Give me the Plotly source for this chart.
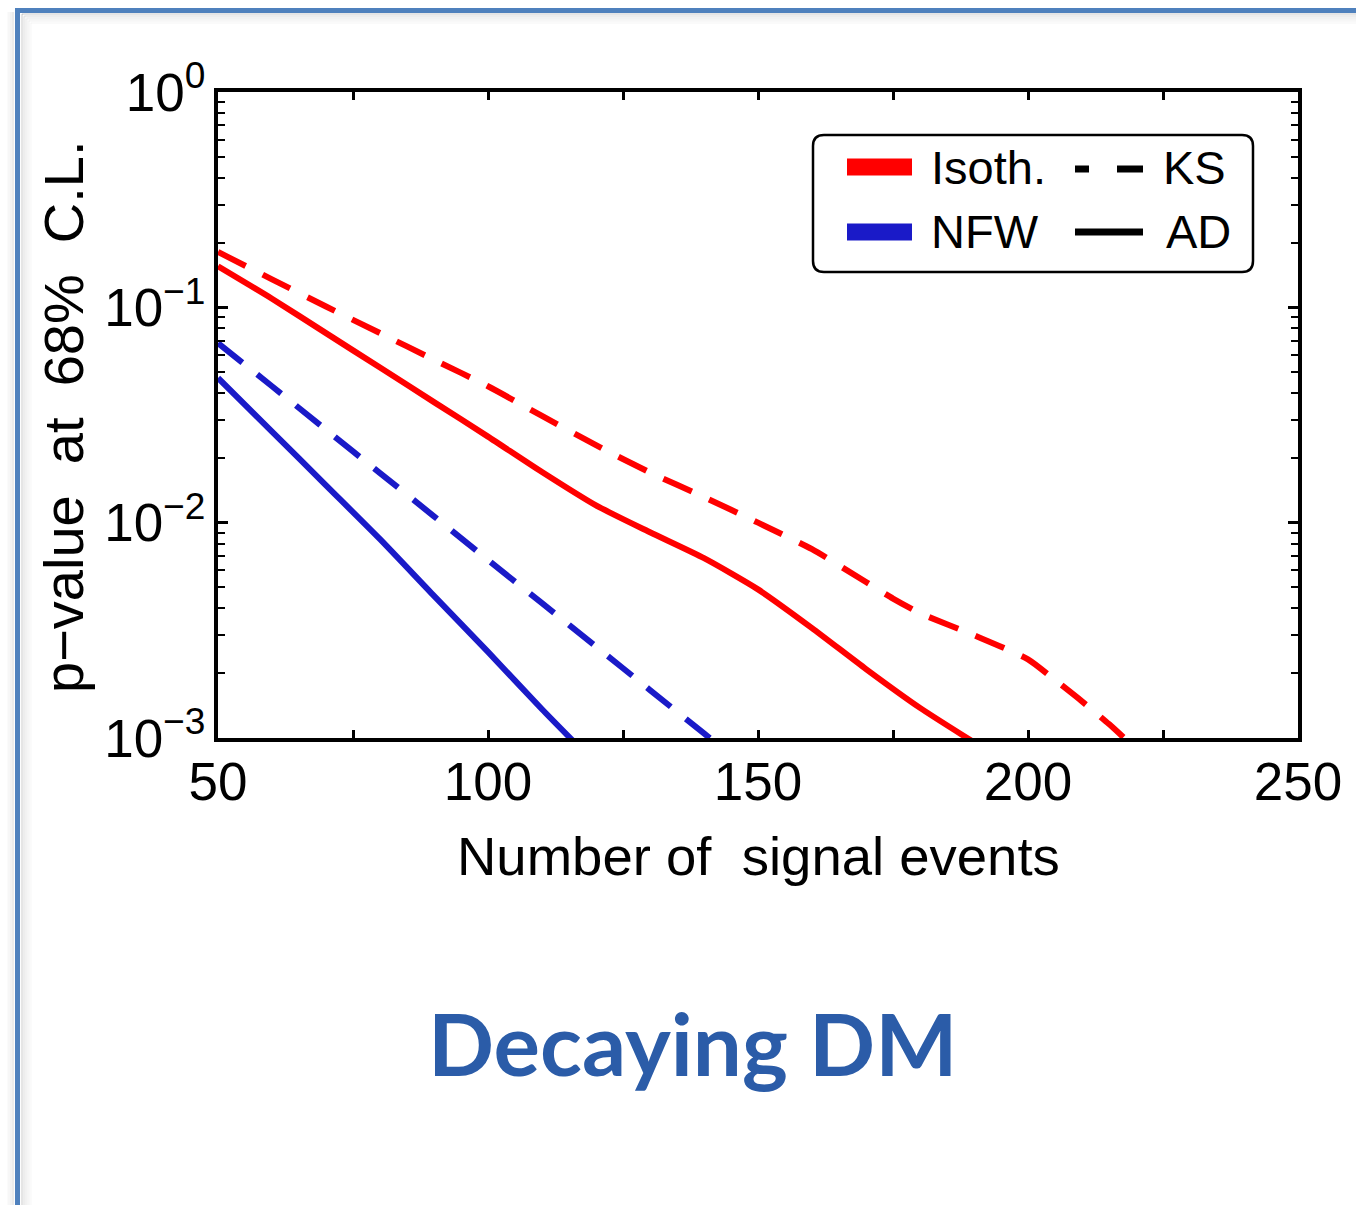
import plotly.graph_objects as go

# ---- data: p-value at 68% C.L. versus number of signal events ----
x_iso_ad = [50, 60, 70, 80, 90, 100, 110, 120, 130, 140, 150, 160, 170, 180, 190]
p_iso_ad = [0.155, 0.1096, 0.0759, 0.0525, 0.0363, 0.0251, 0.01718, 0.01202,
            0.00902, 0.00684, 0.0049, 0.00324, 0.00209, 0.00138, 0.000955]

x_iso_ks = [50, 60, 70, 80, 90, 100, 110, 120, 130, 140, 150, 160, 170, 175,
            180, 190, 200, 205, 210, 215, 220]
p_iso_ks = [0.1807, 0.1349, 0.1009, 0.0759, 0.0571, 0.0430, 0.0313, 0.0229,
            0.0171, 0.01315, 0.0100, 0.00753, 0.0053, 0.00444, 0.0038, 0.0030,
            0.00232, 0.00186, 0.00148, 0.00116, 0.00089]

x_nfw_ad = [50, 60, 70, 80, 90, 100, 110, 116]
p_nfw_ad = [0.047, 0.0265, 0.0149, 0.00838, 0.00457, 0.00251, 0.00136, 0.000955]

x_nfw_ks = [50, 60, 70, 80, 90, 100, 110, 120, 130, 140, 145]
p_nfw_ks = [0.0682, 0.0430, 0.0270, 0.0170, 0.0107, 0.00671, 0.00423,
            0.00266, 0.00167, 0.00105, 0.00083]

x_tick_vals = [50, 100, 150, 200, 250]
y_tick_vals = [1e-3, 1e-2, 1e-1, 1e0]
y_tick_text = ["10<sup>\u22123</sup>", "10<sup>\u22122</sup>",
               "10<sup>\u22121</sup>", "10<sup>0</sup>"]

profile_names = ["Isoth.", "NFW"]
profile_colors = ["#ff0000", "#1a1ac8"]
test_names = ["KS", "AD"]

RED, BLUE = profile_colors
DASH = "31px,19px"
LW = 6

# ---- figure geometry (pixels) ----
W, H = 1356, 1205
L, R, T, B = 218, 1298, 92, 738


def fx(px):
    return (px - L) / (R - L)


def fy(py):
    return (B - py) / (B - T)


fig = go.Figure()

series = [
    (x_iso_ks, p_iso_ks, RED, DASH),
    (x_iso_ad, p_iso_ad, RED, "solid"),
    (x_nfw_ks, p_nfw_ks, BLUE, DASH),
    (x_nfw_ad, p_nfw_ad, BLUE, "solid"),
]
for xs, ps, col, dash in series:
    fig.add_trace(go.Scatter(
        x=xs, y=ps, mode="lines",
        line=dict(color=col, width=LW, dash=dash, shape="spline", smoothing=0.6),
        showlegend=False, hoverinfo="skip",
    ))

FONT = "Liberation Sans, Arial, Helvetica, sans-serif"

fig.update_xaxes(
    range=[50, 250], tickmode="array", tickvals=x_tick_vals,
    ticktext=[str(v) for v in x_tick_vals],
    showline=True, linecolor="black", linewidth=4, mirror="allticks",
    ticks="inside", ticklen=8, tickwidth=2.5, tickcolor="black",
    minor=dict(tickmode="array", tickvals=[75, 125, 175, 225],
               ticks="inside", ticklen=8, tickwidth=2.5, tickcolor="black"),
    showgrid=False, zeroline=False,
    tickfont=dict(family=FONT, size=53, color="black"),
    ticklabelstandoff=-6,
)

minor_y = [m * 10 ** e for e in (-3, -2, -1) for m in range(2, 10)]
fig.update_yaxes(
    type="log", range=[-3, 0], tickmode="array", tickvals=y_tick_vals,
    ticktext=y_tick_text,
    showline=True, linecolor="black", linewidth=4, mirror="allticks",
    ticks="inside", ticklen=10, tickwidth=2.5, tickcolor="black",
    minor=dict(tickmode="array", tickvals=minor_y,
               ticks="inside", ticklen=7, tickwidth=2, tickcolor="black"),
    showgrid=False, zeroline=False,
    tickfont=dict(family=FONT, size=53, color="black"),
    ticklabelstandoff=-2,
)

shapes = []
annotations = []

# slide frame with a soft inner shadow
for i, a in enumerate([0.10, 0.07, 0.05, 0.035, 0.02]):
    off = 22 + i * 2.2
    shapes.append(dict(type="line", xref="paper", yref="paper",
                       x0=fx(off), x1=fx(off), y0=fy(off - 8), y1=fy(1400),
                       line=dict(color=f"rgba(0,0,0,{a})", width=2.2)))
    shapes.append(dict(type="line", xref="paper", yref="paper",
                       x0=fx(off), x1=fx(1400), y0=fy(off - 8), y1=fy(off - 8),
                       line=dict(color=f"rgba(0,0,0,{a})", width=2.2)))
for i, a in enumerate([0.08, 0.05, 0.03]):
    off = 13 - i * 2.2
    shapes.append(dict(type="line", xref="paper", yref="paper",
                       x0=fx(off), x1=fx(off), y0=fy(12), y1=fy(1400),
                       line=dict(color=f"rgba(0,0,0,{a})", width=2.2)))
shapes.append(dict(type="rect", xref="paper", yref="paper",
                   x0=fx(17.5), x1=fx(1500), y0=fy(10.5), y1=fy(1400),
                   line=dict(color="#4f81bd", width=5), layer="above"))

# legend box with rounded corners
x0, y0, x1, y1, r = 813, 135, 1253, 272, 11


def P(px, py):
    return f"{fx(px):.5f},{fy(py):.5f}"


path = (f"M{P(x0 + r, y0)} L{P(x1 - r, y0)} Q{P(x1, y0)} {P(x1, y0 + r)} "
        f"L{P(x1, y1 - r)} Q{P(x1, y1)} {P(x1 - r, y1)} "
        f"L{P(x0 + r, y1)} Q{P(x0, y1)} {P(x0, y1 - r)} "
        f"L{P(x0, y0 + r)} Q{P(x0, y0)} {P(x0 + r, y0)} Z")
shapes.append(dict(type="path", xref="paper", yref="paper", path=path,
                   line=dict(color="black", width=2.5), fillcolor="white",
                   layer="above"))

row_y = [167, 232]
for name, col, yy in zip(profile_names, profile_colors, row_y):
    shapes.append(dict(type="rect", xref="paper", yref="paper",
                       x0=fx(847), x1=fx(912), y0=fy(yy - 8.5), y1=fy(yy + 8.5),
                       fillcolor=col, line=dict(width=0), layer="above"))
    annotations.append(dict(xref="paper", yref="paper", x=fx(929), y=fy(yy),
                            xanchor="left", yanchor="middle", text=name,
                            showarrow=False,
                            font=dict(family=FONT, size=47, color="black")))

# line-style keys: dashed (KS) and solid (AD)
for seg in [(1075, 1089), (1117, 1143)]:
    shapes.append(dict(type="line", xref="paper", yref="paper",
                       x0=fx(seg[0]), x1=fx(seg[1]), y0=fy(169), y1=fy(169),
                       line=dict(color="black", width=7), layer="above"))
shapes.append(dict(type="line", xref="paper", yref="paper",
                   x0=fx(1075), x1=fx(1143), y0=fy(232), y1=fy(232),
                   line=dict(color="black", width=7), layer="above"))
for name, yy, xl in zip(test_names, row_y, [1161, 1164]):
    annotations.append(dict(xref="paper", yref="paper", x=fx(xl), y=fy(yy),
                            xanchor="left", yanchor="middle", text=name,
                            showarrow=False,
                            font=dict(family=FONT, size=47, color="black")))

# axis titles
annotations.append(dict(xref="paper", yref="paper", x=fx(758), y=fy(857),
                        xanchor="center", yanchor="middle",
                        text="Number of\u00a0 signal events", showarrow=False,
                        font=dict(family=FONT, size=54.5, color="black")))
annotations.append(dict(xref="paper", yref="paper", x=fx(63), y=fy(417),
                        xanchor="center", yanchor="middle", textangle=-90,
                        text="p\u2212value\u00a0 at\u00a0 68%\u00a0 C.L.",
                        showarrow=False,
                        font=dict(family=FONT, size=56, color="black")))

# slide heading
annotations.append(dict(xref="paper", yref="paper", x=fx(692), y=fy(1042),
                        xanchor="center", yanchor="middle",
                        text="<b>Decaying DM</b>", showarrow=False,
                        font=dict(family="Lato, Open Sans, sans-serif",
                                  size=87, color="#2b5ca8")))

fig.update_layout(
    width=W, height=H,
    margin=dict(l=L, r=W - R, t=T, b=H - B, autoexpand=False),
    paper_bgcolor="white", plot_bgcolor="white",
    shapes=shapes, annotations=annotations,
    showlegend=False,
)

fig.write_html("out.html")
